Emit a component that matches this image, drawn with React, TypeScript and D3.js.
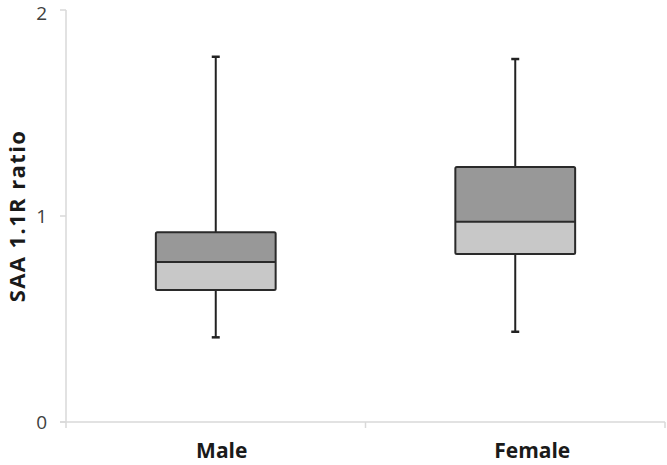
import { useEffect, useRef } from 'react';
import * as d3 from 'd3';

// box statistics
const categories = ['Male', 'Female'];
const whiskerMax = [1.773, 1.762];
const q3 = [0.921, 1.238];
const medians = [0.777, 0.972];
const q1 = [0.641, 0.816];
const whiskerMin = [0.411, 0.438];
const yTicks = [0, 1, 2];

const App = () => {
    const svgRef = useRef<SVGSVGElement>(null);

    useEffect(() => {
        const svg = d3.select(svgRef.current);
        svg.selectAll('*').remove();

        const left = 66, right = 665, top = 10, bottom = 422;
        const font = '"Open Sans", "Liberation Sans", sans-serif';

        const x = d3.scaleBand().domain(categories).range([left, right]);
        const y = d3.scaleLinear().domain([0, 2]).range([bottom, top]);
        const boxW = x.bandwidth() * 0.4;
        const axisColor = '#d9d9d9';

        // y axis
        svg.append('line')
            .attr('x1', left).attr('x2', left)
            .attr('y1', y(2)).attr('y2', y(0))
            .attr('stroke', axisColor).attr('stroke-width', 1.5);
        yTicks.forEach(t => {
            svg.append('line')
                .attr('x1', left - 6).attr('x2', left)
                .attr('y1', y(t)).attr('y2', y(t))
                .attr('stroke', axisColor).attr('stroke-width', 1.5);
            svg.append('text')
                .attr('x', left - 19).attr('y', Math.max(y(t), 13)) // keep top label inside the frame
                .attr('dy', '0.36em')
                .attr('text-anchor', 'end')
                .attr('font-family', font)
                .attr('font-size', 19)
                .attr('fill', '#404040')
                .text(t);
        });

        // x axis
        svg.append('line')
            .attr('x1', left - 6).attr('x2', right)
            .attr('y1', y(0)).attr('y2', y(0))
            .attr('stroke', axisColor).attr('stroke-width', 1.5);
        [left, left + x.step(), right].forEach(px => {
            svg.append('line')
                .attr('x1', px).attr('x2', px)
                .attr('y1', y(0)).attr('y2', y(0) + 6)
                .attr('stroke', axisColor).attr('stroke-width', 1.5);
        });

        categories.forEach((c, i) => {
            const cx = x(c)! + x.bandwidth() / 2;
            const g = svg.append('g');

            // whiskers
            g.append('line')
                .attr('x1', cx).attr('x2', cx)
                .attr('y1', y(whiskerMax[i])).attr('y2', y(q3[i]))
                .attr('stroke', '#222').attr('stroke-width', 2);
            g.append('line')
                .attr('x1', cx).attr('x2', cx)
                .attr('y1', y(q1[i])).attr('y2', y(whiskerMin[i]))
                .attr('stroke', '#222').attr('stroke-width', 2);
            [whiskerMax[i], whiskerMin[i]].forEach(v => {
                g.append('line')
                    .attr('x1', cx - 4).attr('x2', cx + 4)
                    .attr('y1', y(v)).attr('y2', y(v))
                    .attr('stroke', '#222').attr('stroke-width', 2.5);
            });

            // upper and lower box halves
            g.append('rect')
                .attr('x', cx - boxW / 2).attr('width', boxW)
                .attr('y', y(q3[i])).attr('height', y(medians[i]) - y(q3[i]))
                .attr('fill', '#989898');
            g.append('rect')
                .attr('x', cx - boxW / 2).attr('width', boxW)
                .attr('y', y(medians[i])).attr('height', y(q1[i]) - y(medians[i]))
                .attr('fill', '#c8c8c8');
            g.append('rect')
                .attr('x', cx - boxW / 2).attr('width', boxW)
                .attr('y', y(q3[i])).attr('height', y(q1[i]) - y(q3[i]))
                .attr('rx', 1.5)
                .attr('fill', 'none')
                .attr('stroke', '#2a2a2a').attr('stroke-width', 2);
            g.append('line')
                .attr('x1', cx - boxW / 2).attr('x2', cx + boxW / 2)
                .attr('y1', y(medians[i])).attr('y2', y(medians[i]))
                .attr('stroke', '#2a2a2a').attr('stroke-width', 2);

            // category label, set a little right of the box centre as in the original
            svg.append('text')
                .attr('x', cx + 6 + i * 11).attr('y', 458)
                .attr('text-anchor', 'middle')
                .attr('font-family', font)
                .attr('font-weight', 'bold')
                .attr('font-size', 21)
                .attr('fill', '#1a1a1a')
                .text(c);
        });

        // y title
        svg.append('text')
            .attr('transform', `translate(17,${y(1)}) rotate(-90)`)
            .attr('dy', '0.36em')
            .attr('text-anchor', 'middle')
            .attr('font-family', font)
            .attr('font-weight', 'bold')
            .attr('font-size', 22)
            .attr('letter-spacing', 1.4)
            .attr('fill', '#1a1a1a')
            .text('SAA 1.1R ratio');
    }, []);

    return (
        <svg ref={svgRef} width={667} height={465}
            style={{ position: 'absolute', left: 0, top: 0, background: '#fff' }} />
    );
};

export default App;
